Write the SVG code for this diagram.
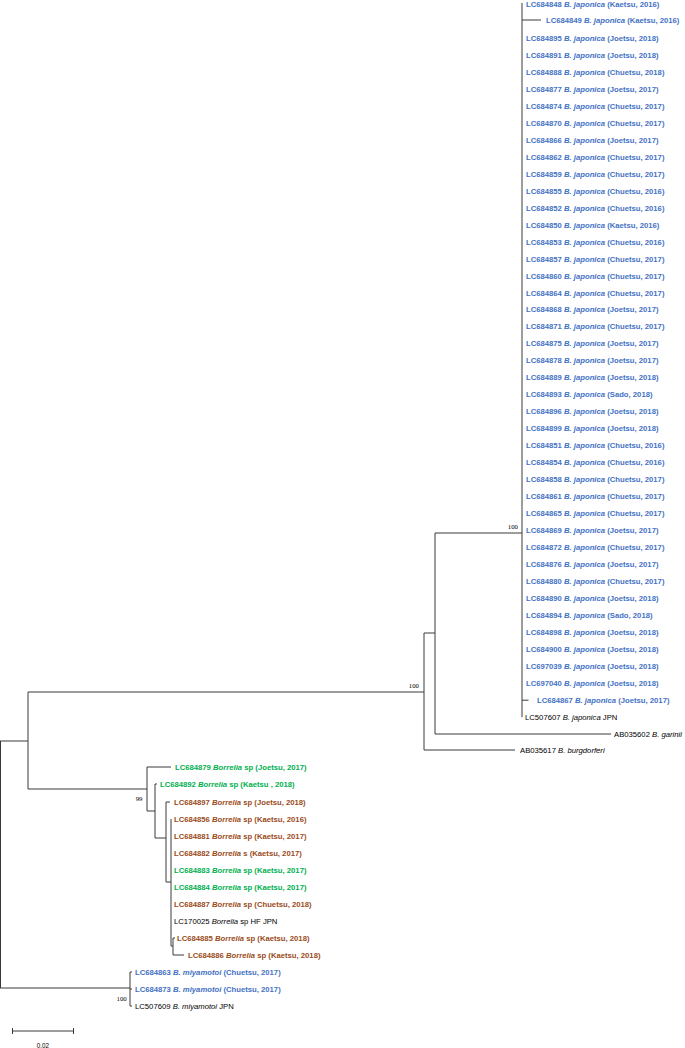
<svg xmlns="http://www.w3.org/2000/svg" width="685" height="1048" viewBox="0 0 685 1048">
<style>
text{font-family:"Liberation Sans",Arial,sans-serif;font-size:7.7px}
.b{fill:#4472c4;font-weight:bold}
.g{fill:#00b050;font-weight:bold}
.r{fill:#9a4b1a;font-weight:bold}
.k{fill:#000}
.i{font-style:italic}
.bs{font-family:"Liberation Serif","Times New Roman",serif;font-size:6.8px;fill:#000;text-anchor:end}
.sc{font-size:6.3px;fill:#000;text-anchor:middle}
#connectors path{fill:none;stroke:#3a3a3a;stroke-width:1}
</style>
<rect width="685" height="1048" fill="#fff"/>
<g id="connectors">
<path d="M522,3V717.2 M522,20H541 M522,700.2H528.5 M435,533H522 M435,533V734 M435,734H611 M424,633V750 M424,633H435 M424,750H515 M28,692H424 M28,692V789 M28,789H147 M0.5,741V988 M0,741H28 M0,988H130 M130,972V1006 M130,972H132 M130,989H132 M130,1006H132 M147,767V811 M147,767H171 M147,811H155 M155,784V838 M155,784H157 M155,838H166 M166,802V882 M166,802H170 M166,882H171 M171,819V946 M171,946H173 M173,938V955 M173,938H175 M173,955H184"/>
<path d="M12,1031H74 M12.5,1028V1034 M73.5,1028V1034"/>
</g>
<g id="bootstrap">
<text class="bs" x="518" y="529">100</text>
<text class="bs" x="419" y="687.5">100</text>
<text class="bs" x="142.5" y="800.5">99</text>
<text class="bs" x="126.7" y="1000.5">100</text>
</g>
<g id="scale"><text class="sc" x="43" y="1047.9">0.02</text></g>
<g id="japonica">
<g id="LC684848"><text class="b" x="526" y="6.8">LC684848 <tspan class="i">B. japonica</tspan> (Kaetsu, 2016)</text></g>
<g id="LC684849"><text class="b" x="546" y="23">LC684849 <tspan class="i">B. japonica</tspan> (Kaetsu, 2016)</text></g>
<g id="LC684895"><text class="b" x="526" y="40.8">LC684895 <tspan class="i">B. japonica</tspan> (Joetsu, 2018)</text></g>
<g id="LC684891"><text class="b" x="526" y="57.7">LC684891 <tspan class="i">B. japonica</tspan> (Joetsu, 2018)</text></g>
<g id="LC684888"><text class="b" x="526" y="74.7">LC684888 <tspan class="i">B. japonica</tspan> (Chuetsu, 2018)</text></g>
<g id="LC684877"><text class="b" x="526" y="91.7">LC684877 <tspan class="i">B. japonica</tspan> (Joetsu, 2017)</text></g>
<g id="LC684874"><text class="b" x="526" y="108.7">LC684874 <tspan class="i">B. japonica</tspan> (Chuetsu, 2017)</text></g>
<g id="LC684870"><text class="b" x="526" y="125.7">LC684870 <tspan class="i">B. japonica</tspan> (Chuetsu, 2017)</text></g>
<g id="LC684866"><text class="b" x="526" y="142.6">LC684866 <tspan class="i">B. japonica</tspan> (Joetsu, 2017)</text></g>
<g id="LC684862"><text class="b" x="526" y="159.6">LC684862 <tspan class="i">B. japonica</tspan> (Chuetsu, 2017)</text></g>
<g id="LC684859"><text class="b" x="526" y="176.6">LC684859 <tspan class="i">B. japonica</tspan> (Chuetsu, 2017)</text></g>
<g id="LC684855"><text class="b" x="526" y="193.6">LC684855 <tspan class="i">B. japonica</tspan> (Chuetsu, 2016)</text></g>
<g id="LC684852"><text class="b" x="526" y="210.6">LC684852 <tspan class="i">B. japonica</tspan> (Chuetsu, 2016)</text></g>
<g id="LC684850"><text class="b" x="526" y="227.5">LC684850 <tspan class="i">B. japonica</tspan> (Kaetsu, 2016)</text></g>
<g id="LC684853"><text class="b" x="526" y="244.5">LC684853 <tspan class="i">B. japonica</tspan> (Chuetsu, 2016)</text></g>
<g id="LC684857"><text class="b" x="526" y="261.5">LC684857 <tspan class="i">B. japonica</tspan> (Chuetsu, 2017)</text></g>
<g id="LC684860"><text class="b" x="526" y="278.5">LC684860 <tspan class="i">B. japonica</tspan> (Chuetsu, 2017)</text></g>
<g id="LC684864"><text class="b" x="526" y="295.5">LC684864 <tspan class="i">B. japonica</tspan> (Chuetsu, 2017)</text></g>
<g id="LC684868"><text class="b" x="526" y="312.4">LC684868 <tspan class="i">B. japonica</tspan> (Joetsu, 2017)</text></g>
<g id="LC684871"><text class="b" x="526" y="329.4">LC684871 <tspan class="i">B. japonica</tspan> (Chuetsu, 2017)</text></g>
<g id="LC684875"><text class="b" x="526" y="346.4">LC684875 <tspan class="i">B. japonica</tspan> (Joetsu, 2017)</text></g>
<g id="LC684878"><text class="b" x="526" y="363.4">LC684878 <tspan class="i">B. japonica</tspan> (Joetsu, 2017)</text></g>
<g id="LC684889"><text class="b" x="526" y="380.4">LC684889 <tspan class="i">B. japonica</tspan> (Joetsu, 2018)</text></g>
<g id="LC684893"><text class="b" x="526" y="397.3">LC684893 <tspan class="i">B. japonica</tspan> (Sado, 2018)</text></g>
<g id="LC684896"><text class="b" x="526" y="414.3">LC684896 <tspan class="i">B. japonica</tspan> (Joetsu, 2018)</text></g>
<g id="LC684899"><text class="b" x="526" y="431.3">LC684899 <tspan class="i">B. japonica</tspan> (Joetsu, 2018)</text></g>
<g id="LC684851"><text class="b" x="526" y="448.3">LC684851 <tspan class="i">B. japonica</tspan> (Chuetsu, 2016)</text></g>
<g id="LC684854"><text class="b" x="526" y="465.3">LC684854 <tspan class="i">B. japonica</tspan> (Chuetsu, 2016)</text></g>
<g id="LC684858"><text class="b" x="526" y="482.2">LC684858 <tspan class="i">B. japonica</tspan> (Chuetsu, 2017)</text></g>
<g id="LC684861"><text class="b" x="526" y="499.2">LC684861 <tspan class="i">B. japonica</tspan> (Chuetsu, 2017)</text></g>
<g id="LC684865"><text class="b" x="526" y="516.2">LC684865 <tspan class="i">B. japonica</tspan> (Chuetsu, 2017)</text></g>
<g id="LC684869"><text class="b" x="526" y="533.2">LC684869 <tspan class="i">B. japonica</tspan> (Joetsu, 2017)</text></g>
<g id="LC684872"><text class="b" x="526" y="550.2">LC684872 <tspan class="i">B. japonica</tspan> (Chuetsu, 2017)</text></g>
<g id="LC684876"><text class="b" x="526" y="567.1">LC684876 <tspan class="i">B. japonica</tspan> (Joetsu, 2017)</text></g>
<g id="LC684880"><text class="b" x="526" y="584.1">LC684880 <tspan class="i">B. japonica</tspan> (Chuetsu, 2017)</text></g>
<g id="LC684890"><text class="b" x="526" y="601.1">LC684890 <tspan class="i">B. japonica</tspan> (Joetsu, 2018)</text></g>
<g id="LC684894"><text class="b" x="526" y="618.1">LC684894 <tspan class="i">B. japonica</tspan> (Sado, 2018)</text></g>
<g id="LC684898"><text class="b" x="526" y="635.1">LC684898 <tspan class="i">B. japonica</tspan> (Joetsu, 2018)</text></g>
<g id="LC684900"><text class="b" x="526" y="652">LC684900 <tspan class="i">B. japonica</tspan> (Joetsu, 2018)</text></g>
<g id="LC697039"><text class="b" x="526" y="669">LC697039 <tspan class="i">B. japonica</tspan> (Joetsu, 2018)</text></g>
<g id="LC697040"><text class="b" x="526" y="686">LC697040 <tspan class="i">B. japonica</tspan> (Joetsu, 2018)</text></g>
<g id="LC684867"><text class="b" x="537" y="703">LC684867 <tspan class="i">B. japonica</tspan> (Joetsu, 2017)</text></g>
<g id="LC507607"><text class="k" x="525" y="720">LC507607 <tspan class="i">B. japonica</tspan> JPN</text></g>
</g>
<g id="AB035602"><text class="k" x="614" y="736.8">AB035602 <tspan class="i">B. garinii</tspan></text></g>
<g id="AB035617"><text class="k" x="520" y="752.8">AB035617 <tspan class="i">B. burgdorferi</tspan></text></g>
<g id="borrelia-sp">
<g id="LC684879"><text class="g" x="175" y="769.8">LC684879 <tspan class="i">Borrelia</tspan> sp (Joetsu, 2017)</text></g>
<g id="LC684892"><text class="g" x="160" y="786.8">LC684892 <tspan class="i">Borrelia</tspan> sp (Kaetsu , 2018)</text></g>
<g id="LC684897"><text class="r" x="174" y="804.8">LC684897 <tspan class="i">Borrelia</tspan> sp (Joetsu, 2018)</text></g>
<g id="LC684856"><text class="r" x="174" y="821.8">LC684856 <tspan class="i">Borrelia</tspan> sp (Kaetsu, 2016)</text></g>
<g id="LC684881"><text class="r" x="174" y="838.8">LC684881 <tspan class="i">Borrelia</tspan> sp (Kaetsu, 2017)</text></g>
<g id="LC684882"><text class="r" x="174" y="855.8">LC684882 <tspan class="i">Borrelia</tspan> s (Kaetsu, 2017)</text></g>
<g id="LC684883"><text class="g" x="174" y="872.8">LC684883 <tspan class="i">Borrelia</tspan> sp (Kaetsu, 2017)</text></g>
<g id="LC684884"><text class="g" x="174" y="889.8">LC684884 <tspan class="i">Borrelia</tspan> sp (Kaetsu, 2017)</text></g>
<g id="LC684887"><text class="r" x="174" y="906.8">LC684887 <tspan class="i">Borrelia</tspan> sp (Chuetsu, 2018)</text></g>
<g id="LC170025"><text class="k" x="174" y="923.8">LC170025 <tspan class="i">Borrelia</tspan> sp HF JPN</text></g>
<g id="LC684885"><text class="r" x="177" y="940.8">LC684885 <tspan class="i">Borrelia</tspan> sp (Kaetsu, 2018)</text></g>
<g id="LC684886"><text class="r" x="188" y="957.8">LC684886 <tspan class="i">Borrelia</tspan> sp (Kaetsu, 2018)</text></g>
</g>
<g id="miyamotoi">
<g id="LC684863"><text class="b" x="135" y="974.8">LC684863 <tspan class="i">B. miyamotoi</tspan> (Chuetsu, 2017)</text></g>
<g id="LC684873"><text class="b" x="135" y="991.8">LC684873 <tspan class="i">B. miyamotoi</tspan> (Chuetsu, 2017)</text></g>
<g id="LC507609"><text class="k" x="135" y="1008.8">LC507609 <tspan class="i">B. miyamotoi</tspan> JPN</text></g>
</g>
</svg>
